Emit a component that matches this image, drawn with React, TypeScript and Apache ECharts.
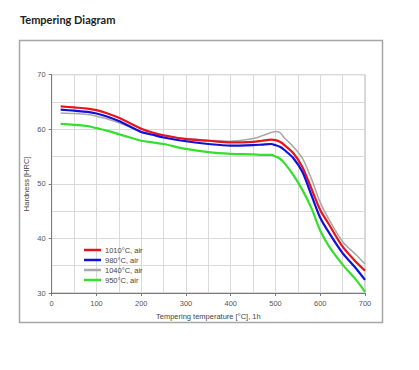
import React, { useEffect, useRef } from "react";
import * as echarts from "echarts";

const temps = [20, 50, 80, 100, 125, 150, 175, 200, 225, 250, 300, 350, 400, 450, 470, 490, 500, 510, 520, 540, 560, 580, 600, 620, 650, 680, 700];

const seriesNames = ["1010°C, air", "980°C, air", "1040°C, air", "950°C, air"];

const hard1010 = [64.2, 64.0, 63.8, 63.5, 62.9, 62.1, 61.1, 60.1, 59.4, 58.9, 58.2, 57.9, 57.6, 57.7, 57.9, 58.1, 58.0, 57.7, 57.1, 55.6, 53.1, 49.2, 45.2, 42.5, 38.5, 35.7, 34.1];
const hard980 = [63.6, 63.4, 63.2, 62.9, 62.3, 61.5, 60.5, 59.5, 59.0, 58.5, 57.8, 57.3, 57.0, 57.1, 57.2, 57.3, 57.1, 56.8, 56.2, 54.7, 52.2, 48.0, 43.8, 41.0, 37.3, 34.5, 32.4];
const hard1040 = [63.0, 62.9, 62.7, 62.4, 61.9, 61.2, 60.4, 59.5, 59.1, 58.8, 58.3, 58.0, 57.8, 58.3, 58.8, 59.4, 59.6, 59.4, 58.4, 56.8, 54.7, 51.0, 46.6, 43.4, 39.4, 37.0, 35.3];
const hard950 = [61.0, 60.8, 60.6, 60.2, 59.7, 59.1, 58.5, 57.9, 57.6, 57.3, 56.4, 55.8, 55.5, 55.4, 55.3, 55.3, 55.0, 54.6, 53.8, 51.6, 48.9, 45.6, 41.4, 38.5, 35.2, 32.4, 30.2];

const seriesValues = [hard1010, hard980, hard1040, hard950];
const seriesColors = ["#e8141b", "#1010d8", "#a8a8a8", "#33e02a"];
const seriesWidths = [2.2, 2.2, 1.5, 2.2];

const xMin = 0, xMax = 700, xStep = 100;
const yMin = 30, yMax = 70, yStep = 10;

const titleText = "Tempering Diagram";
const xName = "Tempering temperature [°C], 1h";
const yName = "Hardness [HRC]";

export default function App() {
  const ref = useRef<HTMLDivElement>(null);
  useEffect(() => {
    if (!ref.current) return;
    const chart = echarts.init(ref.current, null, { renderer: "svg" });
    const font = "'Liberation Sans', Arial, sans-serif";
    chart.setOption({
      animation: false,
      backgroundColor: "#ffffff",
      graphic: [
        {
          type: "rect",
          shape: { x: 19.5, y: 40.5, width: 363, height: 282 },
          style: { fill: "none", stroke: "#a6a6a6", lineWidth: 1.5 },
        },
        {
          type: "text",
          left: 20,
          top: 14,
          style: { text: titleText, fontFamily: "Lato, 'Open Sans', sans-serif", fontWeight: "bold", fontSize: 11, fill: "#222" },
        },
      ],
      grid: {
        left: 51.7,
        right: 54,
        top: 74.7,
        bottom: 77,
        show: true,
        borderColor: "#b0b0b0",
        borderWidth: 1,
      },
      legend: {
        orient: "vertical",
        left: 79,
        top: 241,
        icon: "rect",
        itemWidth: 17,
        itemHeight: 2.5,
        itemGap: 2,
        textStyle: { fontSize: 7.5, color: "#444", fontFamily: font, padding: [0, 0, 0, -1] },
        data: seriesNames.map((name, i) => ({
          name,
          itemStyle: { color: seriesColors[i] },
        })),
      },
      xAxis: {
        type: "value",
        min: xMin,
        max: xMax,
        interval: xStep,
        name: xName,
        nameLocation: "middle",
        nameGap: 19,
        nameMoveOverlap: false,
        nameTextStyle: { fontSize: 7.5, color: "#444", fontFamily: font },
        axisLine: { show: true, lineStyle: { color: "#7a7a7a", width: 1 } },
        axisTick: { show: true, length: 3, lineStyle: { color: "#7a7a7a" } },
        axisLabel: { fontSize: 7.5, color: "#555", margin: 6, fontFamily: font },
        splitLine: { show: true, lineStyle: { color: "#d9d9d9", width: 1 } },
        minorTick: { show: false, splitNumber: 2 },
        minorSplitLine: { show: true, lineStyle: { color: "#d9d9d9", width: 1 } },
      },
      yAxis: {
        type: "value",
        min: yMin,
        max: yMax,
        interval: yStep,
        name: yName,
        nameLocation: "middle",
        nameGap: 21,
        nameMoveOverlap: false,
        nameTextStyle: { fontSize: 7.5, color: "#444", fontFamily: font },
        axisLine: { show: true, lineStyle: { color: "#7a7a7a", width: 1 } },
        axisTick: { show: true, length: 3, lineStyle: { color: "#7a7a7a" } },
        axisLabel: { fontSize: 7.5, color: "#555", margin: 6, fontFamily: font },
        splitLine: { show: true, lineStyle: { color: "#d9d9d9", width: 1 } },
        minorTick: { show: false, splitNumber: 2 },
        minorSplitLine: { show: true, lineStyle: { color: "#d9d9d9", width: 1 } },
      },
      series: seriesNames.map((name, i) => ({
        name,
        type: "line",
        symbol: "none",
        smooth: 0.3,
        data: temps.map((t, j) => [t, seriesValues[i][j]]),
        lineStyle: { color: seriesColors[i], width: seriesWidths[i] },
        itemStyle: { color: seriesColors[i] },
        z: i === 2 ? 1 : 2,
      })),
    });
    return () => chart.dispose();
  }, []);
  return <div ref={ref} style={{ position: "absolute", left: 0, top: 0, width: 419, height: 370 }} />;
}
